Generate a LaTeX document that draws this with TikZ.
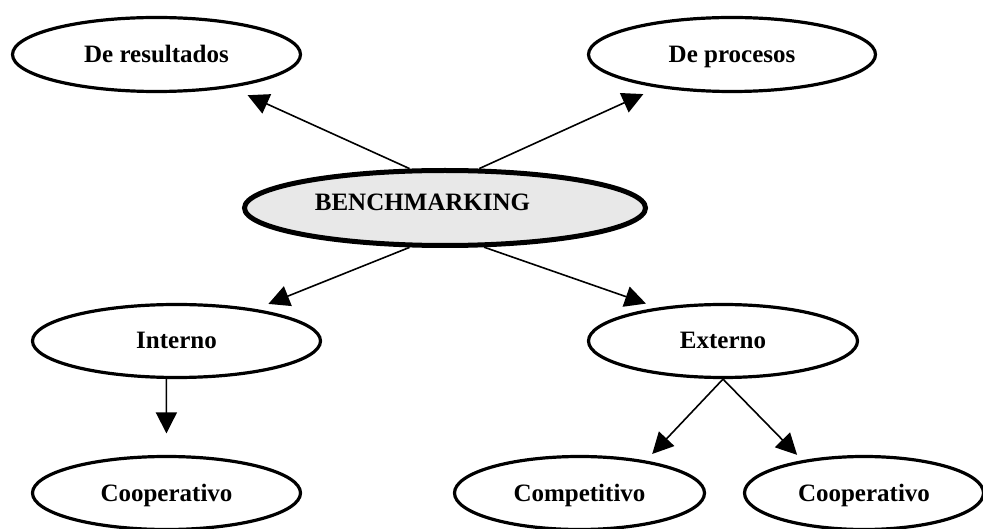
\documentclass[tikz,border=0pt]{standalone}
\usepackage{fontspec}
\setmainfont{Liberation Serif}
\usetikzlibrary{shapes.geometric,arrows.meta}
\definecolor{benchfill}{HTML}{E8E8E8}
\tikzset{
  oval/.style={ellipse, draw=black, line width=3.2pt, inner sep=0pt,
    text height=17pt, text depth=1pt,
    font=\fontsize{25}{29}\selectfont\bfseries},
  mainoval/.style={oval, line width=5pt, fill=benchfill},
  conn/.style={line width=1.6pt, -{Triangle[length=21pt,width=21pt]}}
}
\begin{document}
\begin{tikzpicture}[x=1pt,y=-1pt]
\useasboundingbox (0,0) rectangle (983,529);
\node[oval, minimum width=288pt, minimum height=74pt] (res) at (156.5,54.5) {De resultados};
\node[oval, minimum width=287pt, minimum height=74pt] (proc) at (732,54.5) {De procesos};
\node[mainoval, minimum width=401pt, minimum height=75pt] (bench) at (445,208) {\raisebox{5pt}{BENCHMARKING}\hspace*{45pt}};
\node[oval, minimum width=288pt, minimum height=73pt] (int) at (176.5,341) {Interno};
\node[oval, minimum width=269pt, minimum height=73pt] (ext) at (723,341) {Externo};
\node[oval, minimum width=268pt, minimum height=73pt] (coopL) at (166.5,493) {Cooperativo};
\node[oval, minimum width=250pt, minimum height=73pt] (comp) at (579.5,493) {Competitivo};
\node[oval, minimum width=239pt, minimum height=73pt] (coopR) at (864,493) {Cooperativo};
\draw[conn, shorten >=18.3pt] (bench.132) -- (res.336);
\draw[conn, shorten >=15.6pt] (bench.49) -- (proc.204.5);
\draw[conn, shorten >=13.7pt] (bench.228) -- (int.22.3);
\draw[conn, shorten >=12.2pt] (bench.315) -- (ext.153.6);
\draw[conn, shorten >=21.5pt] (int.255.4) -- (coopL.north);
\draw[conn, shorten >=9.1pt] (ext.south) -- (comp.26.5);
\draw[conn, shorten >=7.5pt] (ext.south) -- (coopR.152.15);
\end{tikzpicture}
\end{document}
